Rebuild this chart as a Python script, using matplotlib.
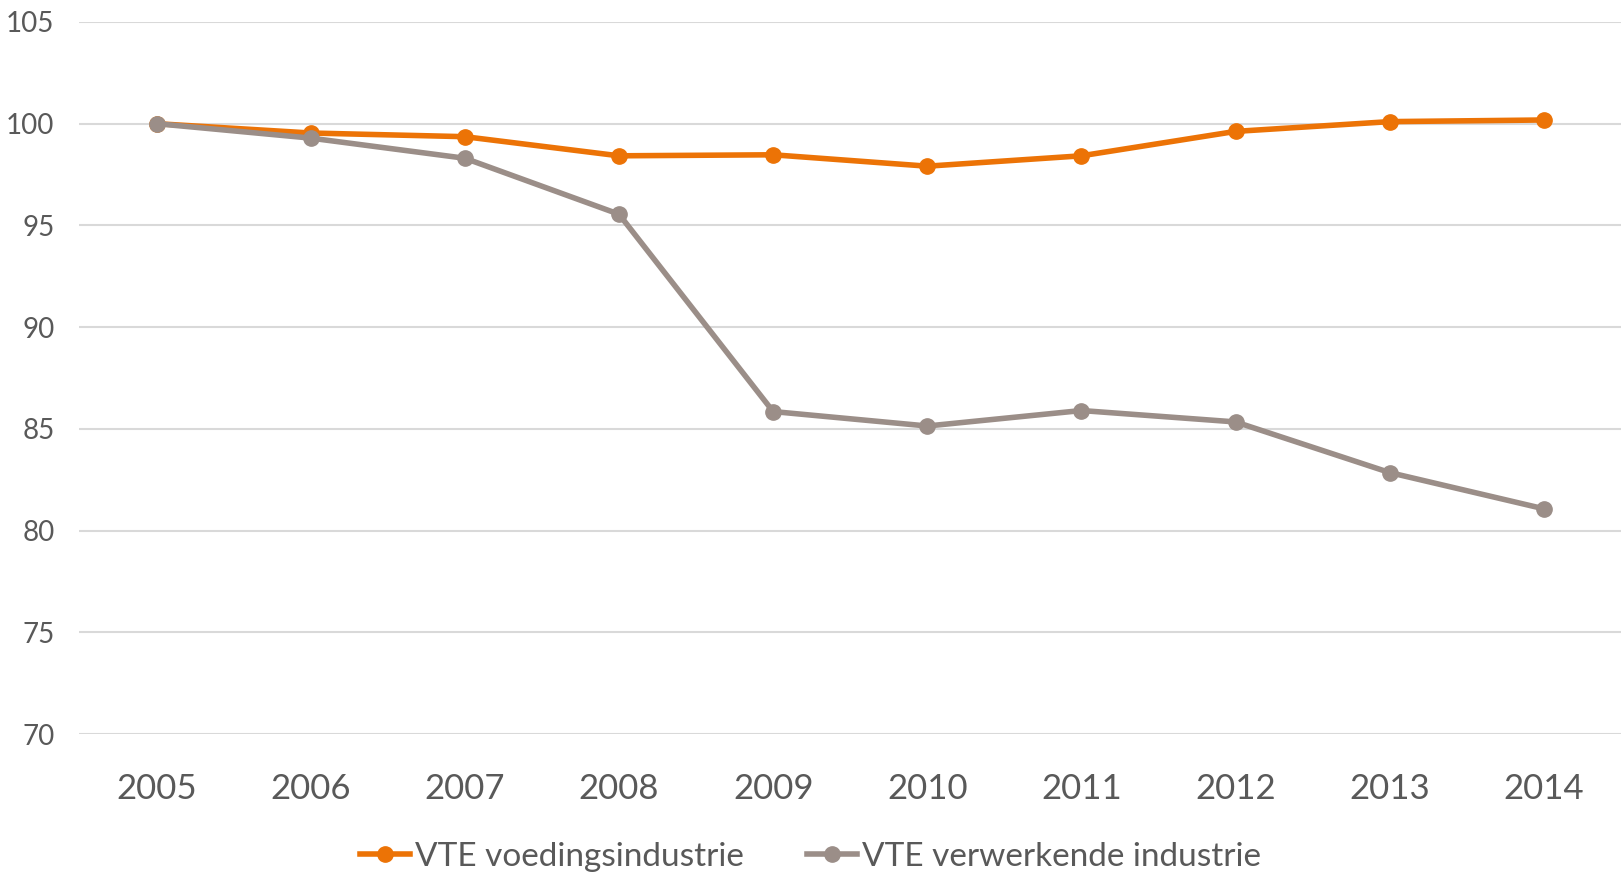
import matplotlib.pyplot as plt

# data (index, 2005 = 100)
years = ["2005", "2006", "2007", "2008", "2009", "2010", "2011", "2012", "2013", "2014"]
voeding = [100.0, 99.54, 99.36, 98.42, 98.47, 97.91, 98.42, 99.62, 100.1, 100.18]
verwerkend = [100.0, 99.29, 98.3, 95.55, 85.85, 85.14, 85.9, 85.34, 82.85, 81.07]

orange = "#EC7306"
grey = "#9B8E88"
txt = "#595959"

plt.rcParams["font.family"] = ["Lato", "DejaVu Sans"]

fig = plt.figure(figsize=(16.21, 8.77), dpi=100)
ax = fig.add_axes([0.049, 0.163, 0.951, 0.812])

x = range(len(years))
ax.plot(x, voeding, color=orange, lw=4, marker="o", ms=11, label="VTE voedingsindustrie", zorder=3)
ax.plot(x, verwerkend, color=grey, lw=4, marker="o", ms=11, label="VTE verwerkende industrie", zorder=4)

ax.set_xlim(-0.5, len(years) - 0.5)
ax.set_ylim(70, 105)
ax.set_yticks(range(70, 106, 5))
ax.set_xticks(list(x))
ax.set_xticklabels(years)
ax.grid(axis="y", color="#D9D9D9", lw=1.5)
ax.set_axisbelow(True)
for s in ax.spines.values():
    s.set_visible(False)
ax.tick_params(axis="both", length=0)
ax.tick_params(axis="y", labelsize=20, labelcolor=txt, pad=18)
ax.tick_params(axis="x", labelsize=25, labelcolor=txt, pad=28)

fig.legend(loc="center", bbox_to_anchor=(0.5, 0.023), ncol=2, frameon=False,
           fontsize=24, labelcolor=txt, handlelength=1.5, handletextpad=0.15,
           columnspacing=1.9)

fig.savefig("out.png", dpi=100)
